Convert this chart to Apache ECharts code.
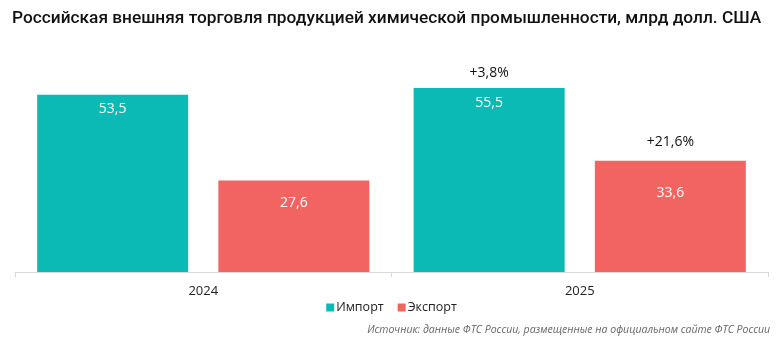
<!DOCTYPE html>
<html><head><meta charset="utf-8">
<script src="https://cdn.jsdelivr.net/npm/echarts@6/dist/echarts.min.js"></script>
<style>html,body{margin:0;padding:0;background:#fff}#c{width:783px;height:341px}</style>
</head><body><div id="c"></div>
<script>
const categories = ['2024', '2025'];
const importValues = [53.5, 55.5];
const exportValues = [27.6, 33.6];
const importChange = ['', '+3,8%'];
const exportChange = ['', '+21,6%'];
const seriesNames = ['Импорт', 'Экспорт'];

// label placement (styling only)
const importLabelDistance = [7, 8];
const exportLabelDistance = [15, 25];

const fmt = v => String(v).replace('.', ',');
const FONT = '"Open Sans", "Noto Sans", sans-serif';

const valueLabel = { show: true, position: 'insideTop', color: '#fff', fontSize: 14, fontFamily: FONT,
  formatter: p => fmt(p.value) };
const withDist = (vals, dists) => vals.map((v, i) => ({ value: v, label: { distance: dists[i] } }));
const changeLabel = (arr, d) => ({ show: true, position: 'top', distance: d, color: '#111', fontSize: 14, fontFamily: FONT,
  formatter: p => arr[p.dataIndex] });

const chart = echarts.init(document.getElementById('c'), null, { renderer: 'canvas' });
chart.setOption({
  animation: false,
  title: [{
    text: 'Российская внешняя торговля продукцией химической промышленности, млрд долл. США',
    left: 7, top: 5,
    textStyle: { fontFamily: 'Roboto, "Noto Sans", sans-serif', fontSize: 17.3, fontWeight: 500, color: '#111' }
  }, {
    text: 'Источник: данные ФТС России, размещенные на официальном сайте ФТС России',
    right: 8, top: 320,
    textStyle: { fontFamily: FONT, fontSize: 10.5, fontStyle: 'italic', fontWeight: 'normal', color: '#666' }
  }],
  legend: {
    data: seriesNames, top: 296, left: 'center', itemWidth: 8, itemHeight: 8, itemGap: 14,
    icon: 'rect', textStyle: { fontFamily: FONT, fontSize: 12.5, color: '#222', padding: [0, 0, 0, -3] }
  },
  grid: { left: 15, right: 15, top: 40, bottom: 69, containLabel: false },
  xAxis: [{
    type: 'category', data: categories,
    axisLine: { lineStyle: { color: '#d9d9d9' } },
    axisTick: { show: true, length: 5, lineStyle: { color: '#d9d9d9' } },
    axisLabel: { fontFamily: FONT, fontSize: 13, color: '#222', margin: 13 }
  }, {
    type: 'category', data: categories, show: false
  }],
  yAxis: { type: 'value', min: 0, max: 70, show: false, splitLine: { show: false } },
  series: [{
    name: seriesNames[0], type: 'bar', barWidth: 151, barGap: '20%', xAxisIndex: 0,
    itemStyle: { color: '#0bbab5' }, data: withDist(importValues, importLabelDistance), label: valueLabel
  }, {
    name: seriesNames[1], type: 'bar', barWidth: 151, barGap: '20%', xAxisIndex: 0,
    itemStyle: { color: '#f26462' }, data: withDist(exportValues, exportLabelDistance), label: valueLabel
  }, {
    name: 'chg-import', type: 'bar', barWidth: 151, barGap: '20%', xAxisIndex: 1,
    itemStyle: { color: 'rgba(0,0,0,0)' }, silent: true,
    data: importValues, label: changeLabel(importChange, 8)
  }, {
    name: 'chg-export', type: 'bar', barWidth: 151, barGap: '20%', xAxisIndex: 1,
    itemStyle: { color: 'rgba(0,0,0,0)' }, silent: true,
    data: exportValues, label: changeLabel(exportChange, 12)
  }]
});
</script></body></html>
